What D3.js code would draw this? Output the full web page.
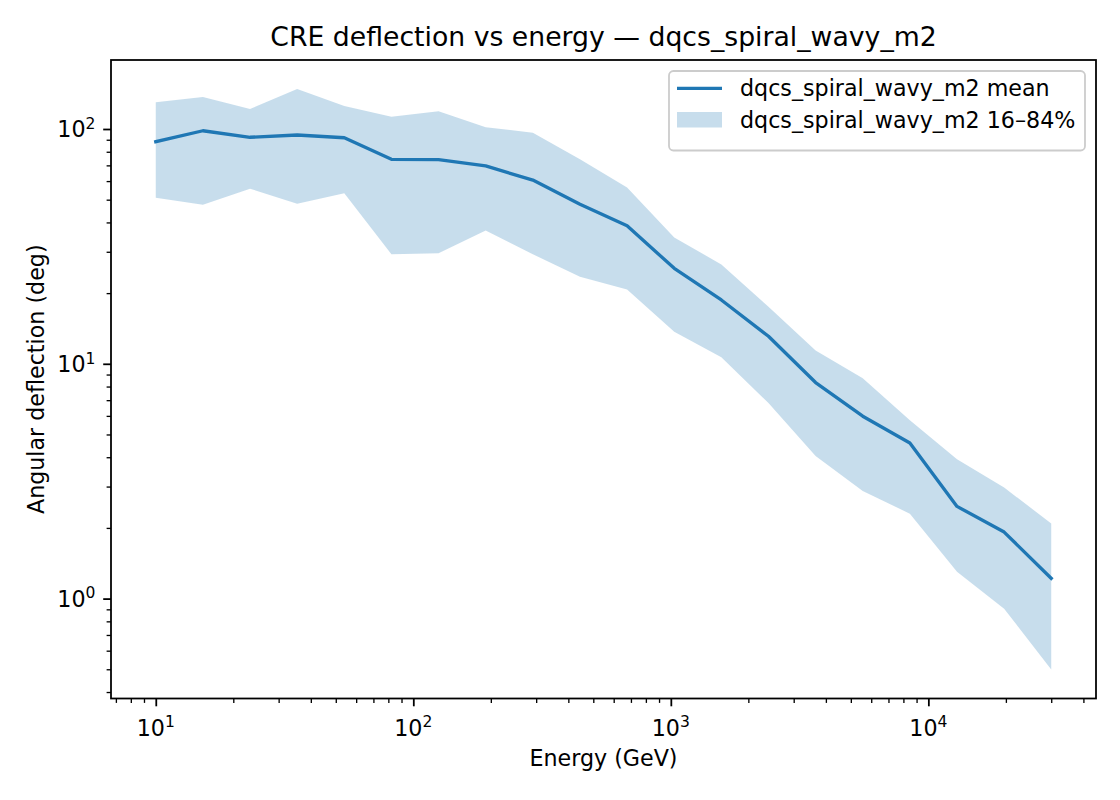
<!DOCTYPE html>
<html>
<head>
<meta charset="utf-8">
<script src="https://cdn.jsdelivr.net/npm/d3@7"></script>
<style>
  html, body { margin: 0; padding: 0; background: #ffffff; }
  svg { display: block; font-family: "DejaVu Sans", sans-serif; }
</style>
</head>
<body>
<svg id="chart" width="1120" height="800"></svg>
<script>
// ---- data ----
const energy = [10, 15.24, 23.23, 35.40, 53.96, 82.24, 125.3, 191.0, 291.2, 443.8,
                676.3, 1031, 1571, 2394, 3649, 5562, 8477, 12920, 19690, 30000];
const meanDefl = [88.3, 98.3, 92.2, 94.3, 91.8, 74.3, 74.0, 69.6, 60.6, 47.8,
                  38.7, 25.5, 18.7, 13.1, 8.32, 5.98, 4.60, 2.47, 1.92, 1.22];
const p84 = [130, 137, 121.7, 148, 125.3, 112.8, 119, 101.7, 96.4, 74.4,
             56.4, 34.5, 26.5, 17.5, 11.4, 8.67, 5.75, 3.92, 2.97, 2.09];
const p16 = [50.9, 47.6, 55.7, 48.0, 53.2, 29.3, 29.6, 37.0, 29.3, 23.5,
             20.7, 13.7, 10.67, 6.8, 4.05, 2.87, 2.30, 1.30, 0.906, 0.499];
const xMajorExp = [1, 2, 3, 4];
const yMajorExp = [0, 1, 2];
const titleText = "CRE deflection vs energy \u2014 dqcs_spiral_wavy_m2";
const xLabelText = "Energy (GeV)";
const yLabelText = "Angular deflection (deg)";
const legendLabels = ["dqcs_spiral_wavy_m2 mean", "dqcs_spiral_wavy_m2 16\u201384%"];

// ---- layout ----
const W = 1120, H = 800;
const M = { left: 111, right: 1096, top: 60, bottom: 698.5 };
const FS = 22.2, TFS = 26.7;
const color = "#1f77b4";

const svg = d3.select("#chart");

function logPad(vals) {
  const lo = Math.log10(d3.min(vals)), hi = Math.log10(d3.max(vals));
  const pad = (hi - lo) * 0.05;
  return [Math.pow(10, lo - pad), Math.pow(10, hi + pad)];
}
const x = d3.scaleLog().domain(logPad(energy)).range([M.left, M.right]);
const y = d3.scaleLog().domain(logPad(p16.concat(p84, meanDefl))).range([M.bottom, M.top]);

const data = energy.map((e, i) => ({ e, m: meanDefl[i], lo: p16[i], hi: p84[i] }));

// band
const area = d3.area().x(d => x(d.e)).y0(d => y(d.lo)).y1(d => y(d.hi));
svg.append("path").datum(data).attr("d", area)
  .attr("fill", color).attr("fill-opacity", 0.25).attr("stroke", "none");

// mean line
const line = d3.line().x(d => x(d.e)).y(d => y(d.m));
svg.append("path").datum(data).attr("d", line)
  .attr("fill", "none").attr("stroke", color).attr("stroke-width", 3.33)
  .attr("stroke-linejoin", "round").attr("stroke-linecap", "square");

// ticks
function minorTicks(scale) {
  const [a, b] = scale.domain();
  const out = [];
  for (let k = Math.floor(Math.log10(a)); k <= Math.ceil(Math.log10(b)); k++) {
    for (let m = 2; m <= 9; m++) {
      const v = m * Math.pow(10, k);
      if (v >= a && v <= b) out.push(v);
    }
  }
  return out;
}
const xMaj = xMajorExp.map(k => Math.pow(10, k));
const yMaj = yMajorExp.map(k => Math.pow(10, k));

const gx = svg.append("g").attr("transform", `translate(0,${M.bottom})`);
gx.call(d3.axisBottom(x).tickValues(minorTicks(x)).tickSize(4.4).tickFormat(""))
  .call(g => g.select(".domain").remove())
  .call(g => g.selectAll("line").attr("stroke", "#000").attr("stroke-width", 1.33));
const gx2 = svg.append("g").attr("transform", `translate(0,${M.bottom})`);
gx2.call(d3.axisBottom(x).tickValues(xMaj).tickSize(7.8).tickFormat(""))
  .call(g => g.select(".domain").remove())
  .call(g => g.selectAll("line").attr("stroke", "#000").attr("stroke-width", 1.78));

const gy = svg.append("g").attr("transform", `translate(${M.left},0)`);
gy.call(d3.axisLeft(y).tickValues(minorTicks(y)).tickSize(4.4).tickFormat(""))
  .call(g => g.select(".domain").remove())
  .call(g => g.selectAll("line").attr("stroke", "#000").attr("stroke-width", 1.33));
const gy2 = svg.append("g").attr("transform", `translate(${M.left},0)`);
gy2.call(d3.axisLeft(y).tickValues(yMaj).tickSize(7.8).tickFormat(""))
  .call(g => g.select(".domain").remove())
  .call(g => g.selectAll("line").attr("stroke", "#000").attr("stroke-width", 1.78));

// tick labels with superscripts
function powLabel(sel, k) {
  sel.append("tspan").text("10");
  sel.append("tspan").attr("dy", -8.6).attr("font-size", FS * 0.7).text(String(k));
}
xMajorExp.forEach(k => {
  const t = svg.append("text").attr("x", x(Math.pow(10, k))).attr("y", M.bottom + 37.5)
    .attr("text-anchor", "middle").attr("font-size", FS).attr("fill", "#000");
  powLabel(t, k);
});
yMajorExp.forEach(k => {
  const t = svg.append("text").attr("x", M.left - 15.6).attr("y", y(Math.pow(10, k)) + 8.4)
    .attr("text-anchor", "end").attr("font-size", FS).attr("fill", "#000");
  powLabel(t, k);
});

// spines
svg.append("rect").attr("x", M.left).attr("y", M.top)
  .attr("width", M.right - M.left).attr("height", M.bottom - M.top)
  .attr("fill", "none").attr("stroke", "#000").attr("stroke-width", 1.78);

// labels
svg.append("text").attr("x", (M.left + M.right) / 2).attr("y", 46)
  .attr("text-anchor", "middle").attr("font-size", TFS).attr("fill", "#000").text(titleText);
svg.append("text").attr("x", (M.left + M.right) / 2).attr("y", 766)
  .attr("text-anchor", "middle").attr("font-size", FS).attr("fill", "#000").text(xLabelText);
svg.append("text").attr("transform", `translate(43.6,${(M.top + M.bottom) / 2}) rotate(-90)`)
  .attr("text-anchor", "middle").attr("font-size", FS).attr("fill", "#000").text(yLabelText);

// legend
const lg = svg.append("g");
lg.append("rect").attr("x", 669).attr("y", 71).attr("width", 1085 - 669).attr("height", 150.5 - 71)
  .attr("rx", 4.4).attr("ry", 4.4)
  .attr("fill", "#fff").attr("fill-opacity", 0.8).attr("stroke", "#cccccc").attr("stroke-width", 1.8);
lg.append("line").attr("x1", 677).attr("x2", 722).attr("y1", 88.3).attr("y2", 88.3)
  .attr("stroke", color).attr("stroke-width", 3.33);
lg.append("rect").attr("x", 677).attr("y", 112).attr("width", 45).attr("height", 15.5)
  .attr("fill", color).attr("fill-opacity", 0.25);
lg.append("text").attr("x", 740).attr("y", 96).attr("font-size", FS).attr("fill", "#000").text(legendLabels[0]);
lg.append("text").attr("x", 740).attr("y", 127.5).attr("font-size", FS).attr("fill", "#000").text(legendLabels[1]);
</script>
</body>
</html>
